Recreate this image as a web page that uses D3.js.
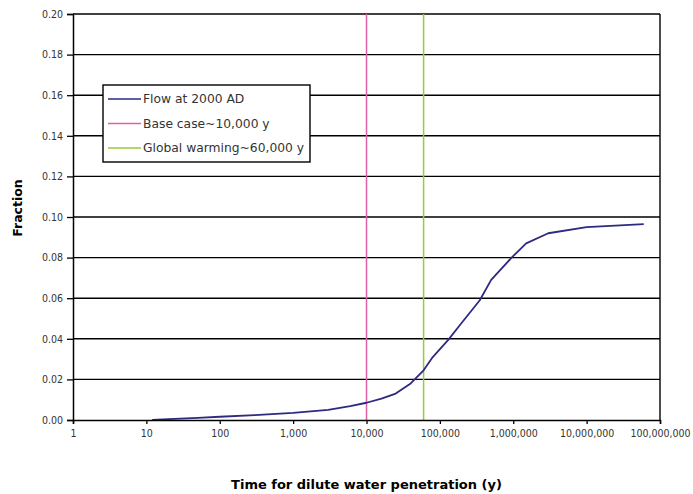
<!DOCTYPE html>
<html>
<head>
<meta charset="utf-8">
<script src="https://cdn.jsdelivr.net/npm/d3@7"></script>
<style>
  body { margin: 0; background: #fff; }
  svg text { font-family: "DejaVu Sans", sans-serif; }
</style>
</head>
<body>
<div class="graph"></div>
<script>
// curve: flow at 2000 AD
var years = [12, 20, 50, 100, 300, 1000, 3000, 6000, 10000, 16000, 25000, 40000, 60000, 80000, 130000, 200000, 350000, 500000, 950000, 1500000, 3000000, 10000000, 60000000];
var fraction = [0, 0.0004, 0.001, 0.0016, 0.0024, 0.0035, 0.005, 0.0068, 0.0085, 0.0105, 0.013, 0.018, 0.0245, 0.031, 0.0395, 0.048, 0.059, 0.069, 0.080, 0.087, 0.092, 0.095, 0.0965];

var xTicks = [1, 10, 100, 1000, 10000, 100000, 1000000, 10000000, 100000000];
var yTicks = [0, 0.02, 0.04, 0.06, 0.08, 0.10, 0.12, 0.14, 0.16, 0.18, 0.20];

var markers = [
    { name: 'Base case~10,000 y', year: 10000, color: '#e060a8' },
    { name: 'Global warming~60,000 y', year: 60000, color: '#99cc33' }
];
var curveName = 'Flow at 2000 AD',
    curveColor = '#2e2a80';

var width = 693,
    height = 494,
    margin = { top: 14, right: 33, bottom: 74, left: 73 };
var w = width - margin.left - margin.right,
    h = height - margin.top - margin.bottom;

var x = d3.scaleLog()
    .domain([1, 100000000])
    .range([0, w]);

var y = d3.scaleLinear()
    .domain([0, 0.2])
    .range([h, 0]);

var svg = d3.select('.graph').append('svg')
    .attr('width', width)
    .attr('height', height);

var g = svg.append('g')
    .attr('transform', 'translate(' + margin.left + ',' + margin.top + ')');

// horizontal grid
g.append('g')
    .selectAll('line')
    .data(yTicks.slice(1))
    .join('line')
    .attr('x1', 0)
    .attr('x2', w)
    .attr('y1', function (d) { return y(d) })
    .attr('y2', function (d) { return y(d) })
    .attr('stroke', '#000')
    .attr('stroke-width', 1.4);

// right border
g.append('line')
    .attr('x1', w).attr('x2', w)
    .attr('y1', 0).attr('y2', h)
    .attr('stroke', '#000')
    .attr('stroke-width', 1.4);

// vertical markers
g.append('g')
    .selectAll('line')
    .data(markers)
    .join('line')
    .attr('x1', function (d) { return x(d.year) })
    .attr('x2', function (d) { return x(d.year) })
    .attr('y1', 0)
    .attr('y2', h)
    .attr('stroke', function (d) { return d.color })
    .attr('stroke-width', 1.5);

var line = d3.line()
    .x(function (d, i) { return x(years[i]) })
    .y(function (d) { return y(d) });

g.append('path')
    .datum(fraction)
    .attr('d', line)
    .attr('fill', 'none')
    .attr('stroke', curveColor)
    .attr('stroke-width', 1.8)
    .attr('stroke-linejoin', 'round');

// axes
var xAxis = g.append('g')
    .attr('transform', 'translate(0,' + h + ')')
    .call(d3.axisBottom(x)
        .tickValues(xTicks)
        .tickFormat(d3.format(','))
        .tickSize(4)
        .tickPadding(6));

var yAxis = g.append('g')
    .call(d3.axisLeft(y)
        .tickValues(yTicks)
        .tickFormat(d3.format('.2f'))
        .tickSize(6)
        .tickPadding(4));

[xAxis, yAxis].forEach(function (a) {
    a.select('.domain').attr('stroke-width', 1.5);
    a.selectAll('.tick line').attr('stroke-width', 1.3);
    a.selectAll('.tick text')
        .attr('fill', '#333')
        .style('font-family', '"DejaVu Sans Condensed", "DejaVu Sans", sans-serif')
        .style('font-size', '10.5px');
});

// legend
var legend = g.append('g')
    .attr('transform', 'translate(' + (103 - margin.left) + ',' + (85 - margin.top) + ')');

legend.append('rect')
    .attr('width', 207)
    .attr('height', 77)
    .attr('fill', '#fff')
    .attr('stroke', '#000')
    .attr('stroke-width', 1.4);

var items = [{ name: curveName, color: curveColor }].concat(markers);

var row = legend.selectAll('g.item')
    .data(items)
    .join('g')
    .attr('class', 'item')
    .attr('transform', function (d, i) { return 'translate(5,' + (14 + i * 24.5) + ')' });

row.append('line')
    .attr('x1', 0).attr('x2', 33)
    .attr('stroke', function (d) { return d.color })
    .attr('stroke-width', 1.5);

row.append('text')
    .attr('x', 35)
    .attr('dy', '0.35em')
    .attr('fill', '#333')
    .style('font-size', '12.3px')
    .text(function (d) { return d.name });

// axis titles
svg.append('text')
    .attr('transform', 'translate(22,' + 208 + ') rotate(-90)')
    .attr('text-anchor', 'middle')
    .style('font-size', '12.5px')
    .style('font-weight', 'bold')
    .text('Fraction');

svg.append('text')
    .attr('x', margin.left + w / 2)
    .attr('y', 489)
    .attr('text-anchor', 'middle')
    .style('font-size', '13px')
    .style('font-weight', 'bold')
    .text('Time for dilute water penetration (y)');
</script>
</body>
</html>
